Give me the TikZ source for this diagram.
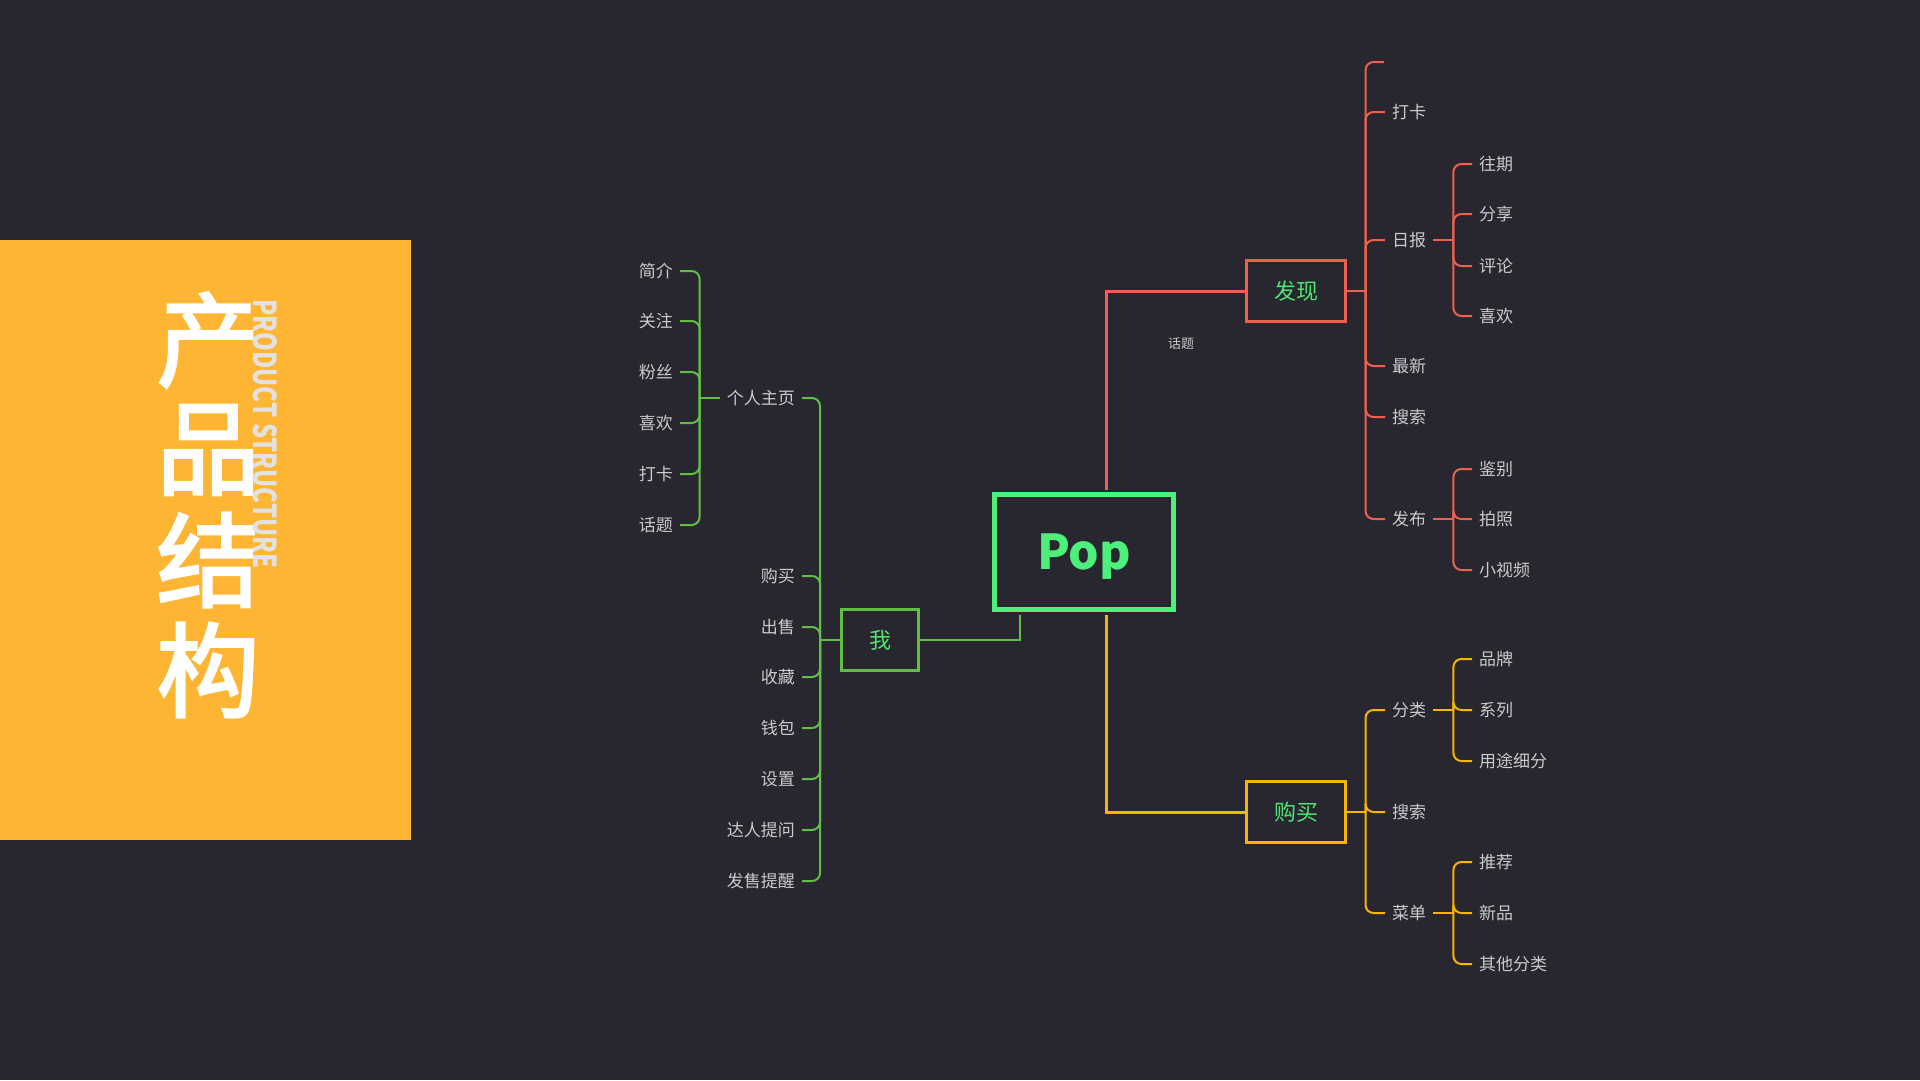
\documentclass[tikz,border=0pt]{standalone}
\usepackage{fontspec}
\usepackage{graphicx}
\setmainfont{Noto Sans CJK SC}
\newfontfamily\titlefont{Noto Sans CJK SC}[FakeBold=2.5]

\definecolor{bg}{HTML}{28272F}
\definecolor{panel}{HTML}{FDB533}
\definecolor{subgray}{HTML}{E2E2E2}
\definecolor{popgreen}{HTML}{4DF07B}
\definecolor{boxgreen}{HTML}{52E472}
\definecolor{tred}{HTML}{F0604E}
\definecolor{tyellow}{HTML}{F8B400}
\definecolor{tgreen}{HTML}{62BE47}
\definecolor{leafgray}{HTML}{CACACA}

\begin{document}
\begin{tikzpicture}[x=1pt,y=-1pt,
    leaf/.style={inner xsep=7pt,inner ysep=2pt,text=leafgray,font=\fontsize{17}{17}\selectfont},
    box/.style={line width=3pt,minimum width=99pt,minimum height=61pt,text=boxgreen,font=\fontsize{22}{22}\selectfont},
    redline/.style={draw=tred,line width=2pt,rounded corners=8pt},
    yellowline/.style={draw=tyellow,line width=2pt,rounded corners=8pt},
    greenline/.style={draw=tgreen,line width=2pt,rounded corners=8pt}]

    % Background
    \fill[bg] (0,0) rectangle (1920,1080);
    \useasboundingbox (0,0) rectangle (1920,1080);

    % Title panel
    \fill[panel] (0,240) rectangle (411,840);
    \foreach \c [count=\i] in {产,品,结,构}{
    \node[text=white,inner sep=0,font=\titlefont\fontsize{103}{103}\selectfont] (title\i) at (208,{340+110*(\i-1)}) {\c};
    }
    \node[rotate=-90,inner sep=0,text=subgray] (subtitle) at (265,434)
        {\resizebox{269pt}{24pt}{\bfseries PRODUCT STRUCTURE}};

    % Center and main branches
    \node[draw=popgreen,line width=5pt,minimum width=179pt,minimum height=115pt,text=popgreen,text depth=0pt,
        font=\bfseries\fontsize{48}{48}\selectfont] (pop) at (1084,552) {Pop};
    \node[box,draw=tred] (fx) at (1296,291) {发现};
    \node[box,draw=tyellow] (gm) at (1296,812) {购买};
    \node[box,draw=tgreen,minimum width=77pt] (wo) at (880,640) {我};

    \draw[tred,line width=3pt,shorten <=2.5pt] ([xshift=22pt]pop.north) |- (fx.west);
    \draw[tyellow,line width=3pt,shorten <=2.5pt] ([xshift=22pt]pop.south) |- (gm.west);
    \draw[tgreen,line width=2.5pt,shorten <=2.5pt] ([xshift=-64pt]pop.south) |- (wo.east);

    \node[text=leafgray,font=\fontsize{13}{13}\selectfont] (tag) at (1181,344) {话题};

    % Discover
    \coordinate (fxj) at ([xshift=18.5pt]fx.east);
    \draw[redline] (fx.east) -- (fxj);
    \coordinate (fxtop) at (1384,62);
    \draw[redline] (fxj) |- (fxtop);
    \foreach \n/\t/\y in {dk/打卡/112,rb/日报/240,zx/最新/366,ss/搜索/417,fb/发布/519}{
    \node[leaf,anchor=west] (fx\n) at (1385,\y) {\t};
    \draw[redline] (fxj) |- (fx\n.west);
    }

    \coordinate (rbj) at ([xshift=20pt]fxrb.east);
    \draw[redline] (fxrb.east) -- (rbj);
    \foreach \n/\t/\y in {wq/往期/164,fx/分享/214,pl/评论/266,xh/喜欢/316}{
    \node[leaf,anchor=west] (rb\n) at (1472,\y) {\t};
    \draw[redline] (rbj) |- (rb\n.west);
    }

    \coordinate (fbj) at ([xshift=20pt]fxfb.east);
    \draw[redline] (fxfb.east) -- (fbj);
    \foreach \n/\t/\y in {jb/鉴别/469,pz/拍照/519,sp/小视频/570}{
    \node[leaf,anchor=west] (fb\n) at (1472,\y) {\t};
    \draw[redline] (fbj) |- (fb\n.west);
    }

    % Buy
    \coordinate (gmj) at ([xshift=18.5pt]gm.east);
    \draw[yellowline] (gm.east) -- (gmj);
    \foreach \n/\t/\y in {fl/分类/710,ss/搜索/812,cd/菜单/913}{
    \node[leaf,anchor=west] (gm\n) at (1385,\y) {\t};
    \draw[yellowline] (gmj) |- (gm\n.west);
    }

    \coordinate (flj) at ([xshift=20pt]gmfl.east);
    \draw[yellowline] (gmfl.east) -- (flj);
    \foreach \n/\t/\y in {pp/品牌/659,xl/系列/710,yt/用途细分/761}{
    \node[leaf,anchor=west] (fl\n) at (1472,\y) {\t};
    \draw[yellowline] (flj) |- (fl\n.west);
    }

    \coordinate (cdj) at ([xshift=20pt]gmcd.east);
    \draw[yellowline] (gmcd.east) -- (cdj);
    \foreach \n/\t/\y in {tj/推荐/862,xp/新品/913,qt/其他分类/964}{
    \node[leaf,anchor=west] (cd\n) at (1472,\y) {\t};
    \draw[yellowline] (cdj) |- (cd\n.west);
    }

    % Me
    \coordinate (woj) at ([xshift=-20pt]wo.west);
    \draw[greenline] (wo.west) -- (woj);
    \foreach \n/\t/\y in {zy/个人主页/398,gm/购买/576,cs/出售/627,sc/收藏/677,qb/钱包/728,sz/设置/779,dr/达人提问/830,fs/发售提醒/881}{
    \node[leaf,anchor=east] (wo\n) at (802,\y) {\t};
    \draw[greenline] (woj) |- (wo\n.east);
    }

    \coordinate (zyj) at ([xshift=-20pt]wozy.west);
    \draw[greenline] (wozy.west) -- (zyj);
    \foreach \n/\t/\y in {jj/简介/271,gz/关注/321,fs/粉丝/372,xh/喜欢/423,dk/打卡/474,ht/话题/525}{
    \node[leaf,anchor=east] (zy\n) at (680,\y) {\t};
    \draw[greenline] (zyj) |- (zy\n.east);
    }
\end{tikzpicture}
\end{document}
